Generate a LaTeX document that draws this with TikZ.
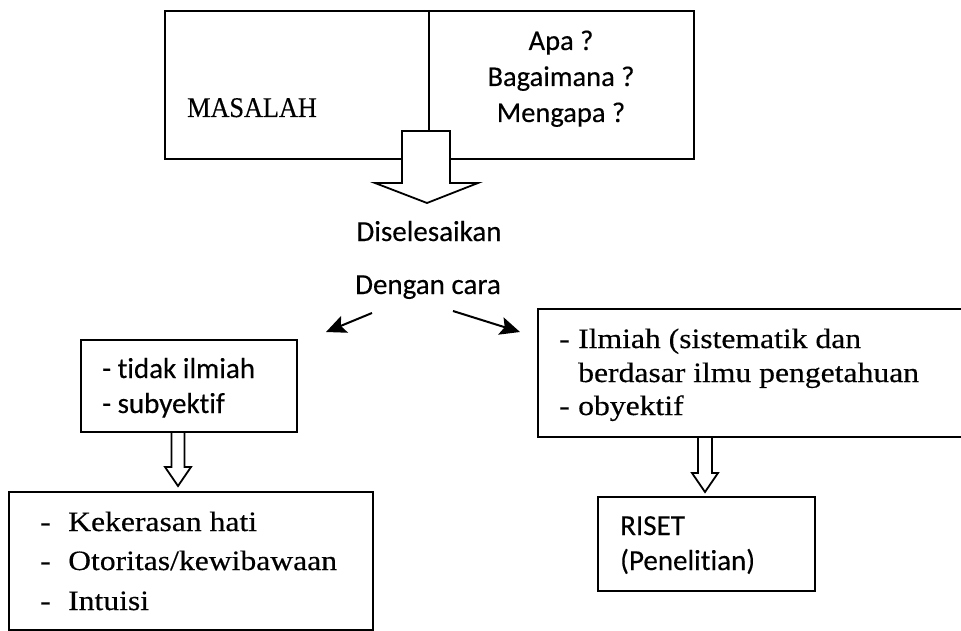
\documentclass[tikz,border=0pt]{standalone}
\usepackage{fontspec}
\setmainfont{Liberation Serif}[FakeStretch=1.13,FakeBold=0.4]
\newfontfamily\serifcaps{Liberation Serif}[FakeStretch=0.92,FakeBold=0.4]
\newfontfamily\calibri{Carlito}[Ligatures=NoCommon,FakeBold=0.3]
\usetikzlibrary{arrows.meta}
\tikzset{
  box/.style={draw, line width=1.8pt, fill=white, rectangle, inner sep=0pt, outer sep=0pt, anchor=north west},
  sanstxt/.style={font=\calibri\fontsize{29}{34}\selectfont, inner sep=0pt},
  seriftxt/.style={font=\fontsize{28}{34}\selectfont, inner sep=0pt, anchor=base west},
  hollow/.style={draw, line width=1.8pt, fill=white, line join=miter},
  arr/.style={line width=2pt, -{Stealth[length=20pt,width=18pt,inset=4pt]}}
}
\begin{document}
\begin{tikzpicture}[x=1pt,y=-1pt]
\useasboundingbox (0,0) rectangle (961,631);
\fill[white] (0,0) rectangle (961,631);
\begin{scope}
\clip (0,0) rectangle (961,631);
% top boxes
\node[box, minimum width=264pt, minimum height=148pt] (masbox) at (165,11) {};
\node[box, minimum width=265pt, minimum height=148pt] (qbox) at (429,11) {};
\node[font=\serifcaps\fontsize{28.5}{30}\selectfont, inner sep=0pt, anchor=base west] (masalah) at (187,117) {MASALAH};
\node[sanstxt, anchor=base, font=\calibri\fontsize{28.5}{34}\selectfont] (apa) at (561,50) {Apa ?};
\node[sanstxt, anchor=base, font=\calibri\fontsize{28.5}{34}\selectfont] (bag) at (561,86) {Bagaimana ?};
\node[sanstxt, anchor=base, font=\calibri\fontsize{28.5}{34}\selectfont] (meng) at (561,122) {Mengapa ?};
% big hollow arrow
\coordinate (ba) at (427,131);
\draw[hollow] (402,131) -- (450,131) -- (450,183) -- (478,183) -- (427,203) -- (375,183) -- (402,183) -- cycle;
% middle texts
\node[sanstxt, anchor=base] (disel) at (429,241) {Diselesaikan};
\node[sanstxt, anchor=base] (dengan) at (428,294) {Dengan cara};
% left branch
\node[box, minimum width=216pt, minimum height=92pt] (tidak) at (81,340) {};
\node[sanstxt, anchor=base west] (t1) at (102,378) {- tidak ilmiah};
\node[sanstxt, anchor=base west] (t2) at (102,413) {- subyektif};
\draw[hollow] (171.5,433) -- (171.5,467) -- (165,467) -- (178,486) -- (191,467) -- (184.5,467) -- (184.5,433);
\node[box, minimum width=364pt, minimum height=138pt] (kek) at (9,492) {};
\node[seriftxt] (d1) at (40,531) {-};
\node[seriftxt] (k1) at (68,531) {Kekerasan hati};
\node[seriftxt] (d2) at (40,570) {-};
\node[seriftxt] (k2) at (68,570) {Otoritas/kewibawaan};
\node[seriftxt] (d3) at (40,610) {-};
\node[seriftxt] (k3) at (68,610) {Intuisi};
% right branch
\node[box, minimum width=440pt, minimum height=128pt] (ilm) at (538,309) {};
\node[seriftxt] (e1) at (559,348) {-};
\node[seriftxt] (i1) at (578,348) {Ilmiah (sistematik dan};
\node[seriftxt] (i2) at (578,382) {berdasar ilmu pengetahuan};
\node[seriftxt] (e3) at (559,415) {-};
\node[seriftxt] (i3) at (578,415) {obyektif};
\draw[hollow] (698,438) -- (698,473) -- (692,473) -- (705,492) -- (718,473) -- (712,473) -- (712,438);
\node[box, minimum width=217pt, minimum height=94pt] (riset) at (598,497) {};
\node[sanstxt, anchor=base west] (r1) at (620,535) {RISET};
\node[sanstxt, anchor=base west] (r2) at (620,570) {(Penelitian)};
% branch arrows
\coordinate (la) at (372,313);
\coordinate (lb) at (326,332);
\coordinate (ra) at (453,311);
\coordinate (rb) at (520,332);
\draw[arr] (la) -- (lb);
\draw[arr] (ra) -- (rb);
\end{scope}
\end{tikzpicture}
\end{document}
